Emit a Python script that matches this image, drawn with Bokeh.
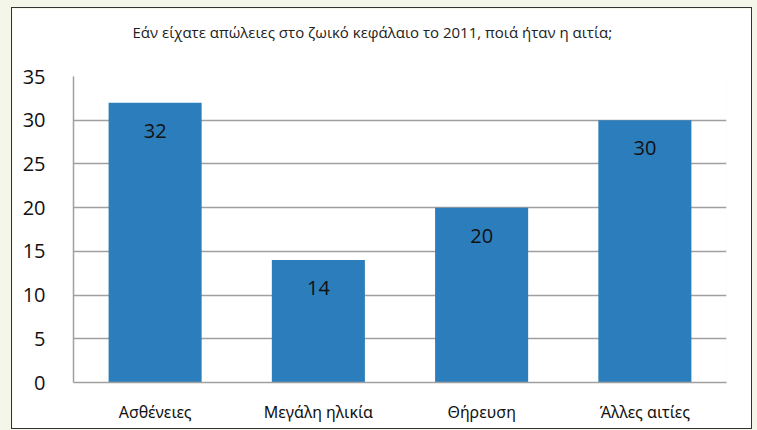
from bokeh.plotting import figure
from bokeh.models import ColumnDataSource, FactorRange, Range1d, FixedTicker, Title
from bokeh.embed import file_html
from bokeh.resources import INLINE

categories = ["Ασθένειες", "Μεγάλη ηλικία", "Θήρευση", "Άλλες αιτίες"]
values = [32, 14, 20, 30]
labels = [str(v) for v in values]
y_ticks = [0, 5, 10, 15, 20, 25, 30, 35]
title_text = "Εάν είχατε απώλειες στο ζωικό κεφάλαιο το 2011, ποιά ήταν η αιτία;"

src = ColumnDataSource(dict(cat=categories, val=values, lab=labels))

p = figure(x_range=FactorRange(*categories, range_padding=0),
           y_range=Range1d(0, 35),
           width=741, height=422, output_backend="svg", toolbar_location=None,
           min_border_left=61, min_border_right=27, min_border_top=68, min_border_bottom=48)
p.styles = {"border": "1px solid #333333", "margin-left": "11px", "margin-top": "7px"}
p.background_fill_color = "white"
p.border_fill_color = "white"
p.outline_line_color = None

# spacer between the title and the plot frame
p.add_layout(Title(text=" ", text_font_size="10px", text_font="Open Sans", standoff=6), "above")

p.title.text = title_text
p.title.align = "left"
p.title.offset = 59
p.title.vertical_align = "middle"
p.title.standoff = 24
p.title.text_font = "Open Sans"
p.title.text_font_size = "15px"
p.title.text_font_style = "normal"
p.title.text_color = "#222222"

p.vbar(x="cat", top="val", width=0.57, source=src, fill_color="#2c7dbb", line_color=None)
p.text(x="cat", y="val", text="lab", source=src, y_offset=28,
       text_align="center", text_baseline="middle", text_font_size="20px",
       text_color="#111111", text_font={"value": "Open Sans"})

p.xgrid.grid_line_color = None
p.ygrid.grid_line_color = "#a0a0a0"
p.ygrid.grid_line_width = 1.5
p.yaxis.ticker = FixedTicker(ticks=y_ticks)
for ax in (p.xaxis, p.yaxis):
    ax.axis_line_color = "#a0a0a0"
    ax.axis_line_width = 1.5
    ax.major_tick_line_color = None
    ax.minor_tick_line_color = None
    ax.major_label_text_color = "#111111"
p.yaxis.major_label_text_font = "Open Sans"
p.yaxis.major_label_text_font_size = "20px"
p.yaxis.major_label_standoff = 22
p.xaxis.major_label_text_font = "Noto Sans"
p.xaxis.major_label_text_font_size = "16px"
p.xaxis.major_label_standoff = 12

html = file_html(p, INLINE)
html = html.replace("</head>", "<style>html, body { background: #f4f6e9; }</style></head>", 1)
open("out.html", "w").write(html)
